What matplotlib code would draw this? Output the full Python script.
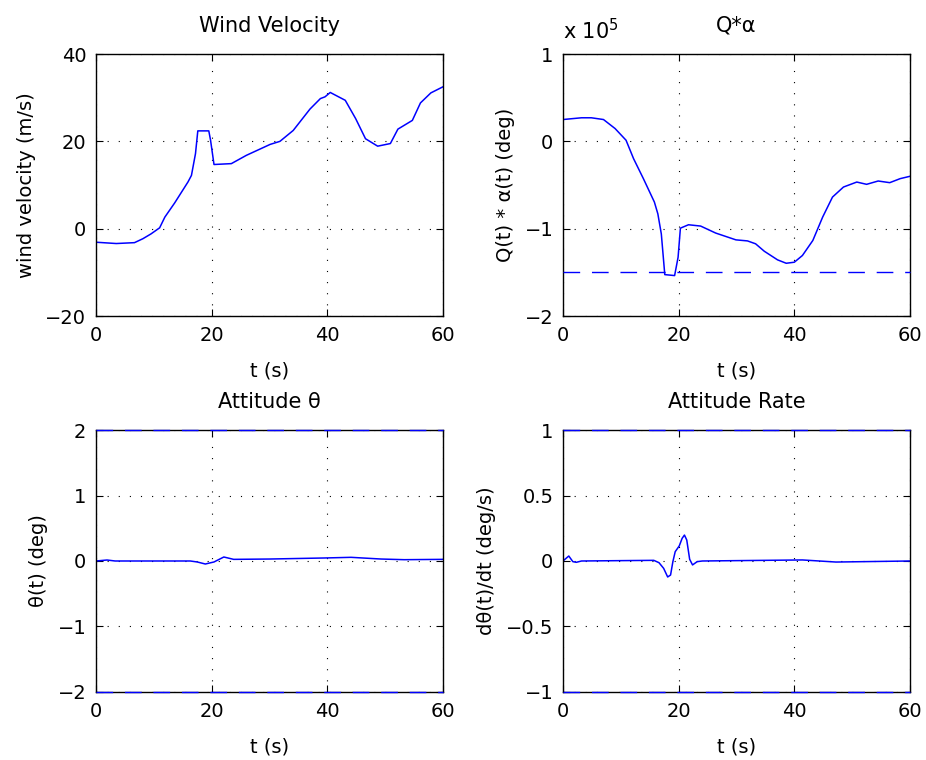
import matplotlib
matplotlib.use("Agg")
import matplotlib.pyplot as plt
from matplotlib.ticker import FuncFormatter
import numpy as np

# wind velocity (m/s)
t_wind = [0, 3.5, 6.65, 8.1, 9.5, 11.0, 11.9, 13.6, 15.9, 16.5, 17.2, 17.6, 19.5, 19.8, 20.4,
          23.4, 26.0, 30.1, 31.8, 34.1, 37.0, 38.8, 39.6, 40.5, 43.1, 44.9, 46.6, 48.7, 50.9,
          52.2, 54.7, 56.1, 57.9, 60]
wind = [-3.1, -3.4, -3.2, -2.3, -1.2, 0.2, 2.65, 5.9, 10.7, 12.2, 17.2, 22.4, 22.4, 20.3, 14.7,
        14.9, 16.8, 19.3, 20.0, 22.5, 27.4, 29.8, 30.2, 31.2, 29.4, 25.2, 20.6, 18.9, 19.5,
        22.8, 24.8, 28.8, 31.1, 32.5]

# Q*alpha, in units of 1e5
t_qa = [0, 3.2, 4.9, 7.0, 9.0, 10.9, 12.2, 13.9, 15.8, 16.4, 17.0, 17.6, 19.3, 19.9, 20.3,
        21.7, 23.8, 26.4, 29.9, 31.9, 33.3, 34.8, 37.1, 38.6, 40.0, 41.4, 43.2, 44.9, 46.6,
        48.5, 50.8, 52.5, 54.5, 56.5, 58.3, 60]
qa = [0.25, 0.27, 0.27, 0.25, 0.147, 0.013, -0.198, -0.427, -0.695, -0.83, -1.06, -1.526,
      -1.537, -1.327, -0.994, -0.955, -0.97, -1.05, -1.128, -1.14, -1.173, -1.258, -1.357,
      -1.396, -1.384, -1.307, -1.135, -0.867, -0.638, -0.523, -0.466, -0.492, -0.454, -0.473,
      -0.427, -0.40]
qa_limit = -1.5

# attitude theta (deg)
t_theta = [0, 1.9, 3.3, 10, 16.3, 17.5, 18.9, 20.4, 22.1, 23.8, 30, 39.5, 44.1, 49.3, 53.3, 60]
theta = [0, 0.015, 0, 0, 0, -0.015, -0.046, -0.015, 0.061, 0.025, 0.03, 0.046, 0.056, 0.03,
         0.02, 0.025]
theta_limit = 2

# attitude rate (deg/s)
t_rate = [0, 1.0, 1.7, 2.3, 3.2, 15.7, 16.6, 17.4, 18.1, 18.6, 19.0, 19.4, 20.1, 20.6, 21.0,
          21.4, 21.9, 22.4, 23.2, 24.1, 41.4, 47.2, 60]
rate = [0, 0.038, -0.005, -0.01, 0, 0.005, -0.013, -0.056, -0.122, -0.107, -0.005, 0.071,
        0.115, 0.173, 0.198, 0.16, 0.013, -0.03, -0.005, 0, 0.008, -0.008, 0]
rate_limit = 1

plt.rcParams['font.family'] = ['DejaVu Sans']
plt.rcParams['font.size'] = 14

fig = plt.figure(figsize=(9.26, 7.6), dpi=100)
w = 0.3747
h = 0.3447
ax1 = fig.add_axes([0.1037, 0.5842, w, h])
ax2 = fig.add_axes([0.608, 0.5842, w, h])
ax3 = fig.add_axes([0.1037, 0.0895, w, h])
ax4 = fig.add_axes([0.608, 0.0895, w, h])

dash = (0, (12, 8.5))
tsize = 15


def fmt(v, pos):
    return ('%g' % v).replace('-', '\u2212')


def style(ax, ylim, yticks):
    ax.set_xlim(0, 60)
    ax.set_xticks([0, 20, 40, 60])
    ax.set_ylim(*ylim)
    ax.set_yticks(yticks)
    ax.yaxis.set_major_formatter(FuncFormatter(fmt))
    ax.grid(True, color='black', linestyle=(0, (1, 9)), linewidth=0.8)
    ax.tick_params(direction='in', top=True, right=True, length=5, width=0.8, pad=7)
    for s in ax.spines.values():
        s.set_linewidth(1.0)
    ax.set_xlabel('t (s)', labelpad=12)


def limit_line(ax, y):
    ax.axhline(y, color='blue', lw=1.0, linestyle=dash, zorder=3, clip_on=False)


ax1.plot(t_wind, wind, color='blue', lw=1.1)
style(ax1, (-20, 40), [-20, 0, 20, 40])
ax1.set_title('Wind Velocity', fontsize=tsize, pad=16)
ax1.set_ylabel('wind velocity (m/s)', labelpad=7)

ax2.plot(t_qa, qa, color='blue', lw=1.1)
limit_line(ax2, qa_limit)
style(ax2, (-2, 1), [-2, -1, 0, 1])
ax2.set_title('Q*α', fontsize=tsize, pad=16)
ax2.set_ylabel('Q(t) * α(t) (deg)', labelpad=7)
ax2.text(0.0, 1.04, 'x 10$^5$', transform=ax2.transAxes, fontsize=tsize, ha='left', va='bottom')

ax3.plot(t_theta, theta, color='blue', lw=1.1)
limit_line(ax3, theta_limit)
limit_line(ax3, -theta_limit)
style(ax3, (-2, 2), [-2, -1, 0, 1, 2])
ax3.set_title('Attitude θ', fontsize=tsize, pad=16)
ax3.set_ylabel('θ(t) (deg)', labelpad=7)

ax4.plot(t_rate, rate, color='blue', lw=1.1)
limit_line(ax4, rate_limit)
limit_line(ax4, -rate_limit)
style(ax4, (-1, 1), [-1, -0.5, 0, 0.5, 1])
ax4.set_title('Attitude Rate', fontsize=tsize, pad=16)
ax4.set_ylabel('dθ(t)/dt (deg/s)', labelpad=7)

fig.savefig('out.png', dpi=100)
